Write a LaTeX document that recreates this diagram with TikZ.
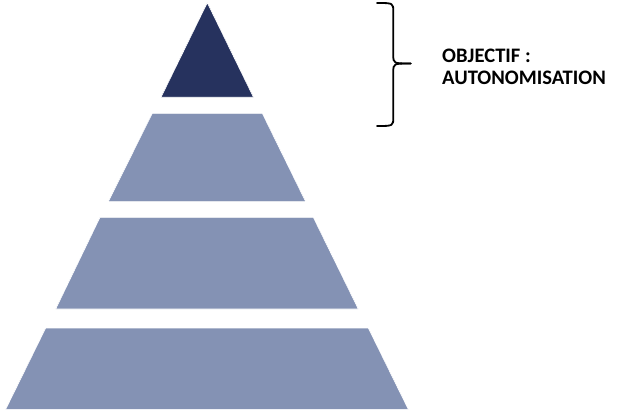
\documentclass[tikz,border=0pt]{standalone}
\usepackage{fontspec}
\newfontfamily\calib{Carlito}
\definecolor{topnavy}{RGB}{38,50,94}
\definecolor{tierblue}{RGB}{132,146,180}
\tikzset{
  tier/.style={fill=tierblue, draw=white, line width=0.6pt, line join=miter},
  toptier/.style={fill=topnavy, draw=white, line width=0.6pt},
  bracestyle/.style={draw=black, line width=1.8pt, line cap=round},
  label/.style={font=\calib\bfseries\fontsize{20.6}{21.6}\selectfont, align=left, inner sep=0pt, anchor=base west}
}
\begin{document}
\begin{tikzpicture}[x=1pt,y=-1pt]
\useasboundingbox (0,0) rectangle (620,417);
% pyramid tiers
\path[toptier] (207.3,2.7) -- (253.5,97.3) -- (161.0,97.3) -- cycle;
\path[tier] (152.3,113.3) -- (262.3,113.3) -- (305.7,201.7) -- (108.3,201.7) -- cycle;
\path[tier] (100.0,217.3) -- (313.3,217.3) -- (358.3,309.0) -- (55.7,309.0) -- cycle;
\path[tier] (45.7,328.0) -- (368.3,328.0) -- (408.3,409.3) -- (5.7,409.3) -- cycle;
% brace
\coordinate (bt) at (377,3);
\coordinate (bb) at (377,126);
\coordinate (bm) at (410.7,63.5);
\path[bracestyle] (bt) .. controls (393.3,3) .. (393.3,12)
  -- (393.3,55) .. controls (393.3,63.5) .. (bm);
\path[bracestyle] (bm) .. controls (393.3,63.5) .. (393.3,72)
  -- (393.3,117) .. controls (393.3,126) .. (bb);
\node[label] (goal) at (442.0,84.3) {OBJECTIF :\\AUTONOMISATION};
\end{tikzpicture}
\end{document}
